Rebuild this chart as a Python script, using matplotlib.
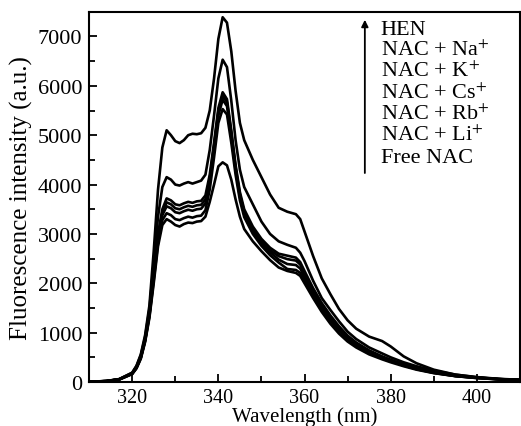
import matplotlib
matplotlib.use("Agg")
import matplotlib.pyplot as plt
from matplotlib.ticker import MultipleLocator

plt.rcParams['font.family'] = ['Liberation Serif', 'DejaVu Serif']
plt.rcParams['mathtext.fontset'] = 'stix'

# longueurs d'onde communes (nm)
wavelength = [310, 314, 317, 320, 321, 322, 323, 324, 325, 326, 327, 328, 329, 330,
              331, 332, 333, 334, 335, 336, 337, 338, 339, 340, 341, 342, 343, 344,
              345, 346, 348, 350, 352, 354, 356, 358, 359, 360, 362, 364, 366, 368,
              370, 372, 375, 378, 380, 383, 386, 390, 395, 400, 405, 410]

hen = [5, 20, 60, 190, 330, 560, 950, 1550, 2650, 3900, 4750, 5100, 5000, 4880,
       4840, 4900, 5000, 5030, 5020, 5040, 5150, 5500, 6150, 6950, 7390, 7280, 6700, 5900,
       5250, 4900, 4500, 4150, 3800, 3530, 3450, 3400, 3300, 3050, 2550, 2100, 1780, 1480,
       1250, 1080, 920, 830, 720, 520, 380, 250, 150, 95, 60, 40]

nac_na = [5, 20, 58, 185, 320, 540, 910, 1480, 2400, 3350, 3950, 4150, 4100, 4000,
          3980, 4020, 4050, 4020, 4050, 4080, 4200, 4700, 5400, 6150, 6530, 6380, 5700, 4900,
          4300, 3950, 3600, 3250, 3000, 2850, 2780, 2720, 2620, 2450, 2050, 1700, 1460, 1230,
          1020, 870, 700, 580, 500, 400, 320, 230, 150, 100, 65, 45]

nac_k = [5, 18, 55, 175, 300, 510, 870, 1400, 2200, 3000, 3500, 3720, 3680, 3600,
         3580, 3620, 3650, 3630, 3660, 3670, 3780, 4200, 4850, 5550, 5870, 5730, 5100, 4400,
         3850, 3500, 3150, 2900, 2720, 2600, 2560, 2520, 2430, 2250, 1900, 1600, 1350, 1130,
         940, 800, 640, 520, 450, 360, 280, 200, 130, 90, 60, 42]

nac_cs = [5, 18, 54, 172, 295, 500, 855, 1380, 2160, 2950, 3440, 3640, 3600, 3520,
          3500, 3540, 3570, 3550, 3580, 3590, 3700, 4120, 4780, 5480, 5800, 5670, 5050, 4350,
          3800, 3450, 3100, 2850, 2670, 2550, 2490, 2460, 2380, 2200, 1860, 1560, 1310, 1100,
          910, 780, 620, 505, 440, 350, 270, 195, 125, 88, 58, 41]

nac_rb = [5, 18, 53, 170, 290, 495, 845, 1360, 2120, 2900, 3380, 3560, 3520, 3440,
          3420, 3460, 3490, 3470, 3500, 3510, 3620, 4050, 4700, 5400, 5720, 5590, 4980, 4300,
          3750, 3400, 3060, 2810, 2630, 2480, 2390, 2370, 2300, 2130, 1800, 1520, 1280, 1070,
          890, 760, 605, 490, 430, 340, 265, 190, 122, 85, 57, 40]

nac_li = [5, 17, 52, 165, 285, 485, 830, 1330, 2060, 2820, 3280, 3420, 3380, 3300,
          3280, 3320, 3350, 3330, 3360, 3370, 3480, 3900, 4550, 5250, 5530, 5420, 4850, 4200,
          3680, 3340, 3000, 2760, 2570, 2420, 2290, 2270, 2210, 2060, 1750, 1470, 1240, 1040,
          860, 740, 590, 480, 420, 335, 260, 185, 120, 82, 56, 40]

free_nac = [5, 17, 50, 160, 275, 470, 810, 1300, 2000, 2750, 3180, 3300, 3250, 3180,
            3150, 3200, 3230, 3220, 3250, 3260, 3350, 3650, 4000, 4370, 4450, 4390, 4100, 3700,
            3350, 3100, 2850, 2650, 2470, 2320, 2250, 2210, 2150, 2000, 1700, 1420, 1180, 980,
            820, 700, 560, 460, 400, 320, 250, 180, 120, 80, 55, 40]

spectra = [hen, nac_na, nac_k, nac_cs, nac_rb, nac_li, free_nac]
labels = ["HEN", "NAC + Na$^{+}$", "NAC + K$^{+}$", "NAC + Cs$^{+}$",
          "NAC + Rb$^{+}$", "NAC + Li$^{+}$", "Free NAC"]

fig = plt.figure(figsize=(5.21, 4.27), dpi=100)
ax = fig.add_axes([0.171, 0.103, 0.827, 0.867])

for s in spectra:
    ax.plot(wavelength, s, color='black', linewidth=1.9)

ax.set_xlim(310, 410)
ax.set_ylim(0, 7500)
ax.xaxis.set_major_locator(MultipleLocator(20))
ax.xaxis.set_minor_locator(MultipleLocator(10))
ax.yaxis.set_major_locator(MultipleLocator(1000))
ax.yaxis.set_minor_locator(MultipleLocator(500))
ax.tick_params(which='both', direction='in', width=1.3)
ax.tick_params(which='major', length=6, pad=5)
ax.tick_params(which='minor', length=4)
ax.tick_params(axis='x', labelsize=14.5, pad=4)
ax.tick_params(axis='y', labelsize=16)
for sp in ax.spines.values():
    sp.set_linewidth(1.5)

ax.set_xlabel("Wavelength (nm)", fontsize=15, labelpad=0)
ax.set_ylabel("Fluorescence intensity (a.u.)", fontsize=18, labelpad=3)

# legende faite a la main : texte + fleche
y0 = 0.9405
for i, lab in enumerate(labels):
    ax.text(0.677, y0 - i * 0.0575, lab, transform=ax.transAxes,
            fontsize=16, va='baseline', ha='left')
ax.annotate("", xy=(0.64, 0.986), xytext=(0.64, 0.557),
            xycoords='axes fraction', textcoords='axes fraction',
            arrowprops=dict(arrowstyle='-|>', color='black', lw=1.3,
                            mutation_scale=10))

fig.savefig("out.png", dpi=100)
